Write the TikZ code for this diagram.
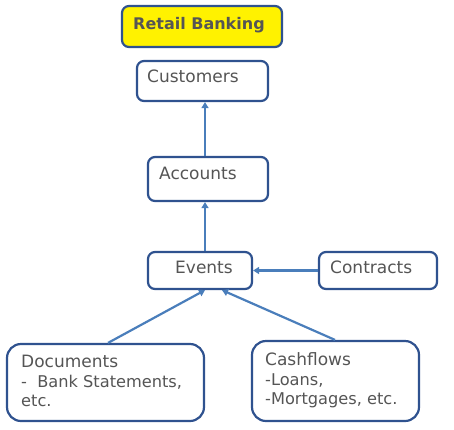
\documentclass[tikz,border=0pt]{standalone}
\usepackage{fontspec}
\setmainfont{DejaVu Sans}
\usetikzlibrary{arrows.meta}
\definecolor{boxline}{HTML}{2F528F}
\definecolor{arrline}{HTML}{4A7EBB}
\definecolor{txt}{HTML}{555555}
\tikzset{
  box/.style={draw=boxline, line width=2.2pt, fill=white, rounded corners=7pt, inner sep=0pt},
  arr/.style={draw=arrline, line width=2.2pt, -{Triangle[width=7pt,length=6pt]}},
  title/.style={anchor=base west, inner sep=0pt, text=txt, font=\fontsize{17}{20}\selectfont},
  sub/.style={anchor=base west, inner sep=0pt, text=txt, font=\fontsize{16.2}{20}\selectfont},
}
\begin{document}
\begin{tikzpicture}[x=1pt,y=-1pt]
\useasboundingbox (0,0) rectangle (454,429);
% boxes
\node[box, fill=yellow, minimum width=160pt, minimum height=41pt] (rb) at (202,26.5) {};
\node[box, minimum width=131pt, minimum height=40pt] (cu) at (202.5,81) {};
\node[box, minimum width=120pt, minimum height=44pt] (ac) at (208,179) {};
\node[box, minimum width=104pt, minimum height=37pt] (ev) at (200,270.5) {};
\node[box, minimum width=118pt, minimum height=37pt] (co) at (378,270.5) {};
\node[box, rounded corners=14pt, minimum width=197pt, minimum height=77pt] (doc) at (105.5,382.5) {};
\node[box, rounded corners=14pt, minimum width=167pt, minimum height=80pt] (cf) at (335.5,381) {};
% texts
\node[title, font=\bfseries\fontsize{16}{20}\selectfont] (trb) at (133,29) {Retail Banking};
\node[title] (tcu) at (147,82) {Customers};
\node[title] (tac) at (159,179) {Accounts};
\node[title] (tev) at (175,273.5) {Events};
\node[title] (tco) at (330,273.5) {Contracts};
\node[title] (tdoc1) at (21,367) {Documents};
\node[sub] (tdoc2) at (21,387) {-\ \ Bank Statements,};
\node[sub] (tdoc3) at (21,406) {etc.};
\node[title] (tcf1) at (265,365) {Cashflows};
\node[sub] (tcf2) at (265,385) {-Loans,};
\node[sub] (tcf3) at (265,404) {-Mortgages, etc.};
% connectors
\draw[arr] (ac.north -| 205,0) -- (cu.south -| 205,0);
\draw[arr] (ev.north -| 205,0) -- (ac.south -| 205,0);
\draw[arr] (co.west) -- (ev.east);
\draw[arr] (doc.north -| 108,0) -- (ev.south -| 205,0);
\draw[arr] (cf.north -| 335,0) -- (ev.south -| 222,0);
\end{tikzpicture}
\end{document}
